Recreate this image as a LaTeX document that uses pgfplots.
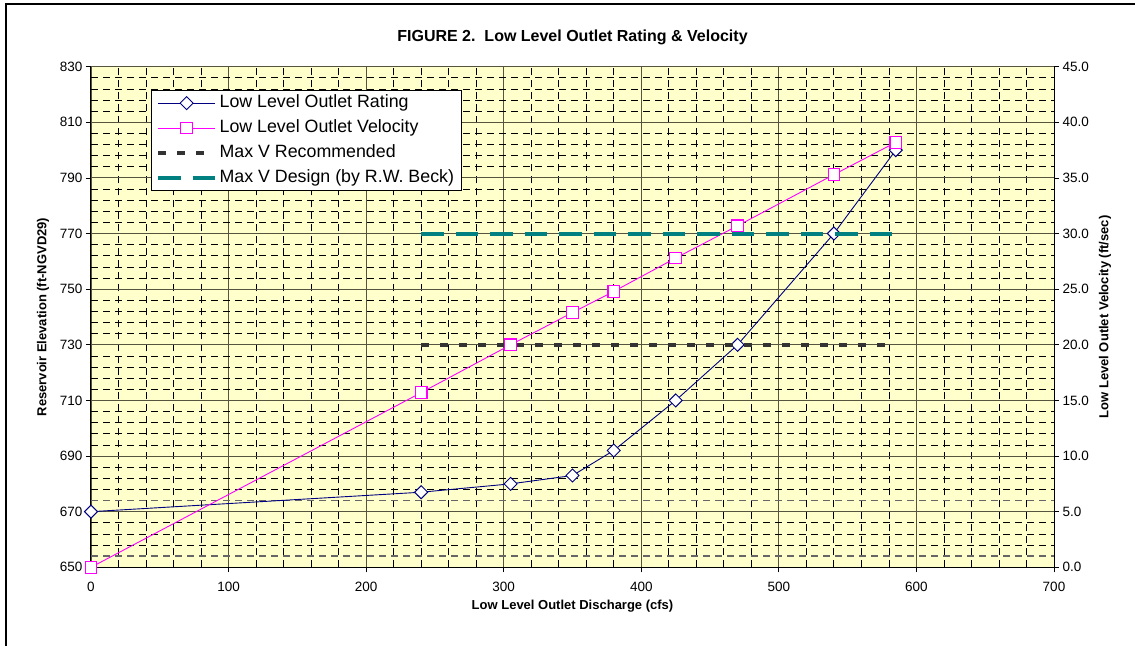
\documentclass[border=0pt]{standalone}
\usepackage{pgfplots}
\pgfplotsset{compat=1.18}
\usepackage{fontspec}
\setmainfont{Liberation Sans}
\definecolor{bgyellow}{HTML}{FFFFCC}
\definecolor{ratingc}{HTML}{000080}
\definecolor{velc}{HTML}{FF00FF}
\definecolor{designc}{HTML}{008080}
\definecolor{recc}{HTML}{333333}
\definecolor{majgrid}{HTML}{55553F}
\begin{document}
\begin{tikzpicture}
\path[use as bounding box] (0pt,0pt) rectangle (1135pt,646pt);
\pgfplotsset{
  common/.style={
    at={(91pt,78.7pt)}, anchor=south west,
    width=963pt, height=500.6pt, scale only axis,
    xmin=0, xmax=700,
    tick align=outside,
    major tick length=5pt, minor tick length=0pt,
    tick style={black, line width=0.8pt},
    tick label style={font=\fontsize{13.5}{15}\selectfont},
    /pgf/number format/assume math mode=true,
    legend image code/.code={\draw[mark repeat=2,mark phase=2,##1] plot coordinates {(0pt,0pt) (28.5pt,0pt) (57pt,0pt)};},
  },
}
\begin{axis}[common,
  ymin=650, ymax=830,
  xtick={0,100,...,700}, ytick={650,670,...,830},
  minor x tick num=4, minor y tick num=4,
  grid=both,
  major grid style={majgrid, line width=0.9pt},
  minor grid style={black, line width=0.8pt, dash pattern=on 7pt off 5pt},
  axis background/.style={fill=bgyellow},
  axis y line*=left, axis x line*=bottom,
  axis line style={black, line width=1pt, -},
  xticklabel style={yshift=-6pt},
  extra y ticks={654,674}, extra y tick labels={},
  extra y tick style={grid=major, major tick length=0pt,
    major grid style={black!60, line width=1.6pt, dash pattern=on 7pt off 5pt}},
  xlabel={Low Level Outlet Discharge (cfs)},
  ylabel={Reservoir Elevation (ft-NGVD29)},
  xlabel style={font=\bfseries\fontsize{13}{15}\selectfont, at={(axis description cs:0.5,-0.0773)}, anchor=center},
  ylabel style={font=\bfseries\fontsize{13}{15}\selectfont, at={(axis description cs:-0.0498,0.5)}, anchor=center, rotate=0},
  title={FIGURE 2.\ \ Low Level Outlet Rating \& Velocity},
  title style={font=\bfseries\fontsize{16}{18}\selectfont, at={(axis description cs:0.5,1.0473)}, anchor=center},
]
\addplot[ratingc, line width=0.9pt, mark=square*, mark size=4.6pt,
  mark options={rotate=45, fill=white, draw=ratingc, line width=1pt}]
  coordinates {(0,670) (240,677) (305,680) (350,683) (380,692) (425,710) (470,730) (540,770) (585,800)};
\end{axis}
\begin{axis}[common,
  ymin=0, ymax=45,
  ytick={0,5,...,45},
  axis y line*=right, axis x line=none,
  axis line style={black, line width=1pt, -},
  yticklabel style={/pgf/number format/.cd, fixed, fixed zerofill, precision=1},
  ylabel={Low Level Outlet Velocity (ft/sec)},
  ylabel style={font=\bfseries\fontsize{13}{15}\selectfont, at={(axis description cs:1.053,0.5)}, anchor=center, rotate=0},
  legend style={at={(0.062,0.9535)}, anchor=north west, draw=black, line width=0.8pt, fill=white,
    font=\fontsize{17.8}{20}\selectfont, cells={anchor=west},
    inner xsep=5pt, inner ysep=2.5pt, row sep=4.5pt,
    nodes={inner sep=2.5pt, text height=12pt, text depth=3.5pt}},
]
\addlegendimage{ratingc, line width=0.9pt, mark=square*, mark size=4.6pt,
  mark options={rotate=45, fill=white, draw=ratingc, line width=1pt}}
\addlegendentry{Low Level Outlet Rating}
\addplot[velc, line width=0.9pt, mark=square*, mark size=5.8pt,
  mark options={fill=white, draw=velc, line width=1.1pt}]
  coordinates {(0,0) (240,15.7) (305,20.0) (350,22.9) (380,24.8) (425,27.8) (470,30.7) (540,35.3) (585,38.2)};
\addlegendentry{Low Level Outlet Velocity}
\addplot[recc, line width=3.8pt, dash pattern=on 7.5pt off 11.5pt]
  coordinates {(240,20) (585,20)};
\addlegendentry{Max V Recommended}
\addplot[designc, line width=4pt, dash pattern=on 22.5pt off 12pt]
  coordinates {(240,30) (585,30)};
\addlegendentry{Max V Design (by R.W. Beck)}
\end{axis}
\draw[black, line width=1.3pt] (6pt,0pt) -- (6pt,642pt) -- (1135pt,642pt);
\end{tikzpicture}
\end{document}
